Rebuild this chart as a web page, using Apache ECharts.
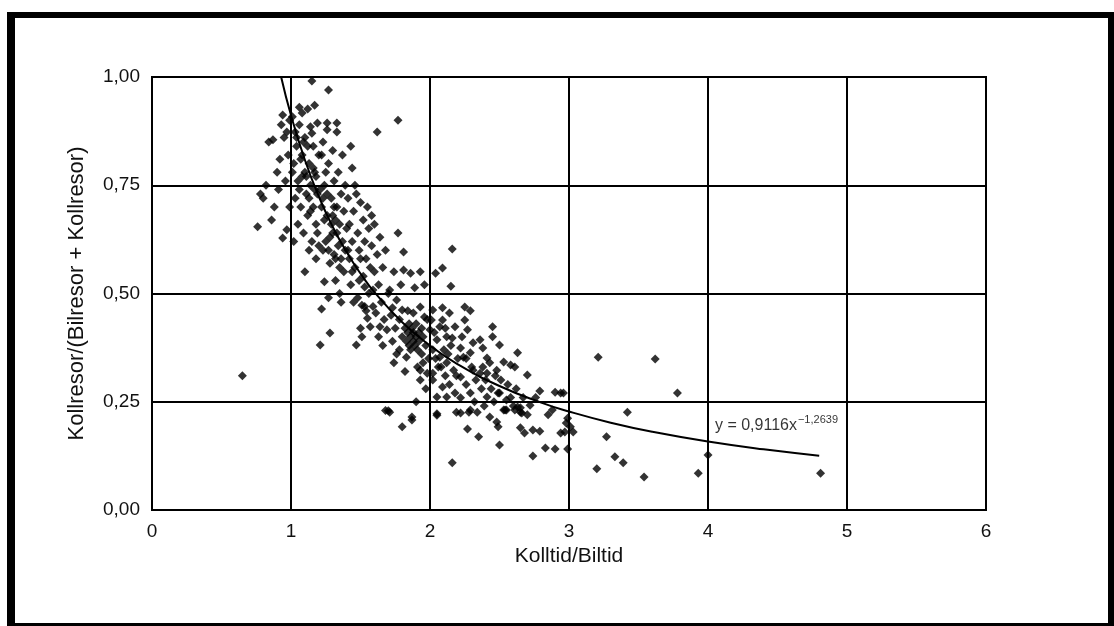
<!DOCTYPE html>
<html>
<head>
<meta charset="utf-8">
<script src="https://cdn.jsdelivr.net/npm/echarts@6/dist/echarts.min.js"></script>
<style>
html,body{margin:0;padding:0;background:#fff;}
#chart{width:1114px;height:626px;}
</style>
</head>
<body>
<div id="chart"></div>
<script>
// Tick labels
const xTicks = ['0','1','2','3','4','5','6'];
const yTicks = ['0,00','0,25','0,50','0,75','1,00'];
const xName = 'Kolltid/Biltid';
const yName = 'Kollresor/(Bilresor + Kollresor)';

const pointsLow = [
 [0.65,0.31],[0.76,0.654],[0.78,0.73],[0.80,0.72],[0.82,0.75],[0.84,0.85],[0.86,0.67],[0.87,0.855],
 [0.88,0.70],[0.90,0.78],[0.91,0.74],[0.92,0.81],[0.94,0.912],[0.94,0.628],[0.95,0.86],[0.96,0.76],
 [0.97,0.873],[0.97,0.647],[0.98,0.82],[0.99,0.70],[0.99,0.90],[0.93,0.89]
];
const points10 = [
 [1.01,0.908],[1.03,0.873],[1.02,0.80],[1.04,0.84],[1.05,0.76],[1.06,0.89],[1.07,0.70],[1.08,0.917],
 [1.08,0.82],[1.09,0.64],[1.10,0.78],[1.10,0.86],[1.11,0.73],[1.12,0.926],[1.12,0.68],[1.13,0.80],
 [1.14,0.885],[1.14,0.75],[1.15,0.991],[1.15,0.62],[1.16,0.84],[1.16,0.70],[1.17,0.935],[1.17,0.78],
 [1.18,0.66],[1.18,0.58],[1.19,0.894],[1.19,0.73],[1.20,0.82],[1.20,0.61],[1.05,0.66],[1.03,0.72],
 [1.06,0.93],[1.09,0.85],[1.13,0.60],[1.11,0.77],[1.07,0.81],[1.15,0.87],[1.18,0.77],[1.01,0.78],
 [1.02,0.62],[1.10,0.55],[1.04,0.86],[1.12,0.84],[1.16,0.79],[1.06,0.74],[1.14,0.69],[1.19,0.64],
 [1.08,0.77],[1.13,0.72],[1.17,0.74]
];
const points12 = [
 [1.21,0.381],[1.22,0.464],[1.22,0.70],[1.23,0.85],[1.24,0.527],[1.24,0.75],[1.25,0.62],[1.26,0.894],
 [1.26,0.878],[1.26,0.68],[1.27,0.97],[1.27,0.49],[1.27,0.80],[1.28,0.409],[1.28,0.57],[1.29,0.72],
 [1.30,0.64],[1.30,0.83],[1.31,0.59],[1.31,0.76],[1.32,0.67],[1.32,0.53],[1.33,0.894],[1.33,0.873],
 [1.33,0.70],[1.34,0.61],[1.34,0.78],[1.35,0.56],[1.35,0.66],[1.36,0.73],[1.36,0.48],[1.37,0.82],
 [1.37,0.62],[1.38,0.69],[1.38,0.55],[1.39,0.75],[1.39,0.60],[1.40,0.65],[1.23,0.60],[1.25,0.78],
 [1.29,0.66],[1.21,0.74],[1.24,0.67],[1.28,0.63],[1.31,0.70],[1.35,0.50],[1.22,0.82],[1.36,0.58],
 [1.23,0.72],[1.27,0.60],[1.30,0.68],[1.33,0.64],[1.26,0.73],[1.32,0.58]
];
const points14 = [
 [1.41,0.72],[1.42,0.58],[1.42,0.66],[1.43,0.52],[1.44,0.79],[1.44,0.62],[1.45,0.69],[1.45,0.48],
 [1.46,0.56],[1.47,0.381],[1.47,0.73],[1.48,0.49],[1.48,0.64],[1.49,0.60],[1.50,0.42],[1.50,0.71],
 [1.51,0.473],[1.51,0.40],[1.52,0.54],[1.52,0.67],[1.53,0.515],[1.53,0.62],[1.54,0.58],[1.55,0.443],
 [1.55,0.70],[1.56,0.50],[1.56,0.65],[1.57,0.423],[1.57,0.56],[1.58,0.61],[1.59,0.508],[1.59,0.47],
 [1.60,0.66],[1.60,0.55],[1.62,0.873],[1.43,0.84],[1.46,0.75],[1.49,0.53],[1.54,0.46],[1.58,0.68],
 [1.41,0.60],[1.44,0.55],[1.50,0.58],[1.53,0.47]
];
const points16 = [
 [1.61,0.455],[1.62,0.59],[1.63,0.52],[1.64,0.423],[1.64,0.63],[1.65,0.48],[1.66,0.56],[1.67,0.44],
 [1.68,0.60],[1.68,0.23],[1.69,0.416],[1.70,0.229],[1.70,0.50],[1.71,0.508],[1.71,0.226],[1.72,0.45],
 [1.73,0.467],[1.73,0.39],[1.74,0.55],[1.75,0.42],[1.76,0.485],[1.76,0.36],[1.77,0.90],[1.78,0.37],
 [1.78,0.44],[1.79,0.52],[1.80,0.462],[1.80,0.192],[1.80,0.40],[1.81,0.596],[1.81,0.554],[1.66,0.38],
 [1.74,0.34],[1.63,0.40],[1.77,0.64]
];
const points18 = [
 [1.82,0.42],[1.83,0.353],[1.83,0.39],[1.84,0.41],[1.85,0.38],[1.85,0.43],[1.86,0.40],[1.86,0.547],
 [1.86,0.37],[1.87,0.42],[1.87,0.208],[1.87,0.215],[1.88,0.455],[1.88,0.39],[1.88,0.41],[1.89,0.513],
 [1.89,0.38],[1.90,0.40],[1.90,0.25],[1.90,0.43],[1.91,0.33],[1.91,0.37],[1.92,0.41],[1.92,0.39],
 [1.93,0.55],[1.93,0.469],[1.93,0.323],[1.93,0.30],[1.94,0.42],[1.94,0.36],[1.95,0.34],[1.95,0.40],
 [1.96,0.52],[1.96,0.446],[1.97,0.38],[1.98,0.316],[1.98,0.44],[1.99,0.35],[2.00,0.416],[1.84,0.46],
 [1.82,0.32],[1.97,0.28]
];
const points20 = [
 [2.01,0.439],[2.02,0.462],[2.02,0.37],[2.02,0.30],[2.02,0.316],[2.04,0.547],[2.05,0.393],[2.05,0.261],
 [2.05,0.222],[2.05,0.219],[2.07,0.353],[2.07,0.423],[2.08,0.33],[2.09,0.559],[2.09,0.467],[2.09,0.439],
 [2.09,0.284],[2.10,0.37],[2.11,0.31],[2.12,0.40],[2.12,0.34],[2.12,0.261],[2.13,0.36],[2.14,0.455],
 [2.14,0.29],[2.15,0.517],[2.16,0.603],[2.16,0.397],[2.16,0.109],[2.17,0.323],[2.18,0.423],[2.18,0.27],
 [2.19,0.226],[2.20,0.35],[2.03,0.41],[2.06,0.33],[2.11,0.42],[2.04,0.35],[2.15,0.38],[2.19,0.31]
];
const points22 = [
 [2.22,0.374],[2.22,0.307],[2.22,0.259],[2.22,0.224],[2.23,0.40],[2.24,0.353],[2.25,0.469],[2.25,0.439],
 [2.26,0.29],[2.27,0.416],[2.27,0.187],[2.28,0.226],[2.29,0.46],[2.29,0.363],[2.29,0.27],[2.29,0.231],
 [2.30,0.33],[2.31,0.386],[2.31,0.323],[2.32,0.25],[2.34,0.226],[2.35,0.169],[2.36,0.393],[2.36,0.316],
 [2.37,0.28],[2.38,0.374],[2.39,0.24],[2.40,0.30],[2.41,0.351],[2.41,0.316],[2.41,0.261],[2.43,0.215],
 [2.43,0.34],[2.44,0.28],[2.45,0.423],[2.45,0.40],[2.46,0.25],[2.47,0.31],[2.48,0.323],[2.48,0.203],
 [2.49,0.192],[2.49,0.27],[2.50,0.381],[2.50,0.27],[2.50,0.15],[2.26,0.35],[2.33,0.30],[2.38,0.33]
];
const points25 = [
 [2.51,0.30],[2.53,0.342],[2.53,0.231],[2.54,0.231],[2.55,0.254],[2.55,0.231],[2.56,0.29],[2.58,0.335],
 [2.58,0.26],[2.60,0.24],[2.61,0.33],[2.61,0.231],[2.62,0.28],[2.63,0.363],[2.63,0.238],[2.65,0.226],
 [2.65,0.236],[2.65,0.19],[2.66,0.224],[2.67,0.26],[2.68,0.178],[2.70,0.312],[2.70,0.22],[2.72,0.242],
 [2.74,0.185],[2.74,0.125],[2.76,0.26],[2.79,0.275],[2.79,0.182],[2.83,0.143],[2.85,0.22],[2.88,0.231],
 [2.90,0.141],[2.90,0.272],[2.94,0.27],[2.94,0.178],[2.96,0.27],[2.97,0.180],[2.98,0.201],[2.99,0.212],
 [2.99,0.141],[3.01,0.192],[3.03,0.180]
];
const pointsHigh = [
 [3.20,0.095],[3.21,0.353],[3.27,0.169],[3.33,0.123],[3.39,0.109],[3.42,0.226],[3.54,0.076],[3.62,0.349],
 [3.78,0.270],[3.93,0.085],[4.00,0.127],[4.81,0.085]
];

// Power trend line y = 0,9116 x^-1,2639 (points from the printed equation)
const curveX = [0.93,1.0,1.1,1.2,1.3,1.4,1.5,1.6,1.8,2.0,2.2,2.5,2.8,3.0,3.3,3.6,4.0,4.4,4.8];
const curveY = [0.999,0.9116,0.8082,0.7240,0.6543,0.5958,0.5461,0.5033,0.4337,0.3796,0.3365,0.2863,0.2481,0.2274,0.2016,0.1806,0.1581,0.1401,0.1255];

const eqPos = [4.05, 0.196];

const allPoints = [].concat(pointsLow, points10, points12, points14, points16, points18, points20, points22, points25, pointsHigh);
const curve = curveX.map((x, i) => [x, curveY[i]]);

const FONT = '"Liberation Sans", "DejaVu Sans", sans-serif';
const chart = echarts.init(document.getElementById('chart'));
chart.setOption({
  animation: false,
  backgroundColor: '#fff',
  grid: { left: 152, top: 77, right: 128, bottom: 116, show: true, borderColor: '#000', borderWidth: 2, backgroundColor: 'transparent' },
  xAxis: {
    type: 'value', min: 0, max: 6, interval: 1,
    name: xName, nameLocation: 'middle', nameGap: 36,
    nameTextStyle: { color: '#111', fontSize: 21, fontFamily: FONT },
    axisLine: { show: true, lineStyle: { color: '#000', width: 2 } },
    axisTick: { show: false },
    axisLabel: { color: '#111', fontSize: 19, fontFamily: FONT, margin: 12, formatter: v => xTicks[Math.round(v)] },
    splitLine: { show: true, lineStyle: { color: '#000', width: 2 } }
  },
  yAxis: {
    type: 'value', min: 0, max: 1, interval: 0.25,
    name: yName, nameLocation: 'middle', nameGap: 64,
    nameTextStyle: { color: '#111', fontSize: 22, fontFamily: FONT },
    axisLine: { show: true, lineStyle: { color: '#000', width: 2 } },
    axisTick: { show: false },
    axisLabel: { color: '#111', fontSize: 19, fontFamily: FONT, margin: 12, formatter: v => yTicks[Math.round(v / 0.25)] },
    splitLine: { show: true, lineStyle: { color: '#000', width: 2 } }
  },
  series: [
    {
      type: 'scatter', data: allPoints, symbol: 'diamond', symbolSize: 9,
      itemStyle: { color: '#000' }, z: 3
    },
    {
      type: 'line', data: curve, smooth: true, showSymbol: false,
      lineStyle: { color: '#000', width: 2 }, z: 4
    },
    {
      type: 'scatter', data: [eqPos], symbolSize: 0, silent: true, z: 5,
      label: {
        show: true, position: 'right', distance: 0,
        formatter: '{a|y = 0,9116x}{b|−1,2639}',
        rich: {
          a: { fontSize: 16, color: '#000', fontFamily: FONT },
          b: { fontSize: 11, color: '#000', fontFamily: FONT, padding: [0, 0, 10, 1] }
        }
      }
    }
  ],
  graphic: [
    { type: 'rect', shape: { x: 7, y: 12, width: 8, height: 614 }, style: { fill: '#000' }, silent: true },
    { type: 'rect', shape: { x: 7, y: 12, width: 1107, height: 6 }, style: { fill: '#000' }, silent: true },
    { type: 'rect', shape: { x: 1108, y: 12, width: 6, height: 614 }, style: { fill: '#000' }, silent: true },
    { type: 'rect', shape: { x: 7, y: 623, width: 1107, height: 3 }, style: { fill: '#000' }, silent: true }
  ]
});
</script>
</body>
</html>
